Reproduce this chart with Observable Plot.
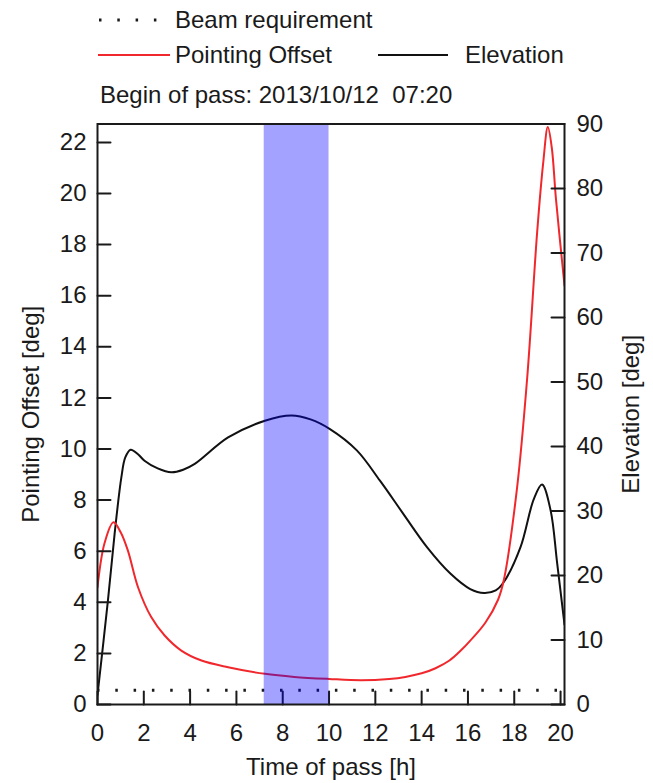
<!DOCTYPE html>
<html>
<head>
<meta charset="utf-8">
<script src="https://cdn.jsdelivr.net/npm/d3@7"></script>
<script src="https://cdn.jsdelivr.net/npm/@observablehq/plot@0.6"></script>
<style>
  html, body { margin: 0; padding: 0; background: #fff; }
  #wrap { position: relative; width: 653px; height: 783px; overflow: hidden; font-family: "Liberation Sans", Arial, sans-serif; }
  #chart { position: absolute; left: 0; top: 95px; }
  #legend { position: absolute; left: 0; top: 0; }
</style>
</head>
<body>
<div id="wrap">
  <div id="chart"></div>
  <svg id="legend" width="653" height="115" font-family="Liberation Sans, Arial, sans-serif" font-size="24" fill="#1a1a1a">
    <line x1="99" x2="158" y1="20" y2="20" stroke="#1a1a1a" stroke-width="3" stroke-dasharray="2.5,15.8"></line>
    <text x="175" y="28">Beam requirement</text>
    <line x1="98" x2="170" y1="55" y2="55" stroke="#f0282d" stroke-width="2"></line>
    <text x="175" y="63">Pointing Offset</text>
    <line x1="378" x2="448" y1="55" y2="55" stroke="#111" stroke-width="2"></line>
    <text x="465" y="63">Elevation</text>
    <text x="100" y="103" xml:space="preserve" style="white-space:pre">Begin of pass: 2013/10/12  07:20</text>
  </svg>
</div>
<script>
// ---- data ----
const timeTicks = [0, 2, 4, 6, 8, 10, 12, 14, 16, 18, 20];
const offsetTicks = [0, 2, 4, 6, 8, 10, 12, 14, 16, 18, 20, 22];
const elevationTicks = [0, 10, 20, 30, 40, 50, 60, 70, 80, 90];

const offsetTime = [0, 0.3, 0.69, 1.0, 1.31, 1.75, 2.32, 2.9, 3.62, 4.49, 5.64, 7.23, 8.5, 10.0, 11.4, 12.6, 13.3, 14.0, 14.6, 15.2, 15.7, 16.1, 16.75, 17.3, 17.55, 18.12, 18.56, 18.99, 19.25, 19.45, 19.62, 19.8, 20.17];
const offsetValue = [4.59, 6.3, 7.13, 6.74, 6.03, 4.59, 3.42, 2.70, 2.11, 1.72, 1.46, 1.20, 1.08, 1.0, 0.95, 1.0, 1.08, 1.22, 1.42, 1.72, 2.12, 2.5, 3.2, 4.1, 4.87, 8.47, 12.8, 18.5, 21.2, 22.6, 21.8, 19.8, 16.4];

const elevTime = [0, 0.45, 0.74, 1.03, 1.2, 1.43, 1.75, 2.03, 2.6, 3.19, 3.7, 4.2, 5.64, 7.23, 8.38, 9.2, 10.04, 11.2, 12.2, 13.2, 14.23, 15.24, 16.1, 16.7, 17.2, 17.55, 18.27, 18.84, 19.2, 19.57, 19.85, 20.17];
const elevValue = [1.5, 16.1, 26.5, 35.2, 38.3, 39.5, 38.8, 37.8, 36.6, 36.0, 36.4, 37.3, 41.4, 44.0, 44.8, 44.2, 42.7, 39.4, 34.7, 29.6, 24.4, 20.3, 17.9, 17.3, 17.7, 19.0, 24.4, 31.8, 34.1, 30.1, 22.0, 12.4];

const beamRequirement = [0.56];
const bandStart = [7.2];
const bandEnd = [10.0];

const timeDomain = [0, 20.17];
const offsetMax = 22.72;
const elevationMax = 90;

// ---- build ----
const k = offsetMax / elevationMax;
const offsetData = offsetTime.map((t, i) => ({t, v: offsetValue[i]}));
const elevData = elevTime.map((t, i) => ({t, e: elevValue[i]}));
const band = bandStart.map((s, i) => ({s, e: bandEnd[i]}));
const tickShape = {draw(context, l) { context.moveTo(0, 0); context.lineTo(0, -l); }};
const tickStyle = {length: 13, anchor: "start", shape: tickShape, stroke: "#1a1a1a", strokeWidth: 2};

const chart = Plot.plot({
  width: 653,
  height: 688,
  marginLeft: 97,
  marginRight: 89,
  marginTop: 28.5,
  marginBottom: 79,
  style: {fontFamily: "Liberation Sans, Arial, sans-serif", fontSize: "24px", color: "#1a1a1a", background: "transparent"},
  x: {domain: timeDomain},
  y: {domain: [0, offsetMax]},
  marks: [
    Plot.ruleY(beamRequirement, {stroke: "#1a1a1a", strokeWidth: 3, strokeDasharray: "2.5,15.8"}),
    Plot.line(elevData, {x: "t", y: d => d.e * k, stroke: "#111", strokeWidth: 2, curve: "catmull-rom", clip: true}),
    Plot.line(offsetData, {x: "t", y: "v", stroke: "#f0282d", strokeWidth: 2, curve: "catmull-rom", clip: true}),
    // inward tick marks
    Plot.vector(timeTicks, {x: d => d, frameAnchor: "bottom", rotate: 0, ...tickStyle}),
    Plot.vector(offsetTicks, {y: d => d, frameAnchor: "left", rotate: 90, ...tickStyle}),
    Plot.vector(elevationTicks, {y: d => d * k, frameAnchor: "right", rotate: -90, ...tickStyle}),
    // labels
    Plot.axisX({ticks: timeTicks, tickSize: 0, tickPadding: 19, label: "Time of pass [h]", labelAnchor: "center", labelOffset: 70, labelArrow: false}),
    Plot.axisY({anchor: "left", ticks: offsetTicks, tickSize: 0, tickPadding: 11, label: "Pointing Offset [deg]", labelAnchor: "center", labelOffset: 76, labelArrow: false}),
    Plot.axisY({anchor: "right", ticks: elevationTicks.map(e => e * k), tickFormat: d => String(Math.round(d / k)), tickSize: 0, tickPadding: 12, label: "Elevation [deg]", labelAnchor: "center", labelOffset: 74, labelArrow: false}),
    Plot.rect(band, {x1: "s", x2: "e", fill: "blue", fillOpacity: 0.36}),
    Plot.frame({stroke: "#1a1a1a", strokeWidth: 2})
  ]
});
document.getElementById("chart").appendChild(chart);
</script>
</body>
</html>
